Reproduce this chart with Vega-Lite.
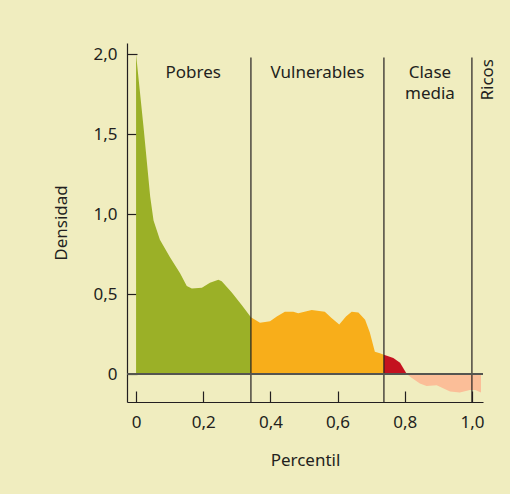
{
  "$schema": "https://vega.github.io/schema/vega-lite/v6.json",
  "width": 356,
  "height": 359,
  "autosize": {"type": "none"},
  "padding": {"left": 127, "top": 43, "right": 27, "bottom": 92},
  "background": "#F0EDBF",
  "config": {
    "view": {"stroke": null},
    "font": "Noto Sans",
    "axis": {
      "grid": false,
      "domainColor": "#231F20",
      "domainWidth": 1.2,
      "tickColor": "#231F20",
      "tickWidth": 1.2,
      "labelColor": "#231F20",
      "titleColor": "#231F20",
      "labelFont": "Noto Sans",
      "titleFont": "Noto Sans",
      "labelFontSize": 17,
      "titleFontSize": 17,
      "titleFontWeight": "normal"
    }
  },
  "datasets": {
    "curve": [
      {"seg": "pobres", "p": 0.0, "d": 2.0},
      {"seg": "pobres", "p": 0.022, "d": 1.55},
      {"seg": "pobres", "p": 0.042, "d": 1.11},
      {"seg": "pobres", "p": 0.052, "d": 0.96},
      {"seg": "pobres", "p": 0.071, "d": 0.84},
      {"seg": "pobres", "p": 0.101, "d": 0.73},
      {"seg": "pobres", "p": 0.131, "d": 0.63},
      {"seg": "pobres", "p": 0.151, "d": 0.55},
      {"seg": "pobres", "p": 0.166, "d": 0.535},
      {"seg": "pobres", "p": 0.196, "d": 0.54},
      {"seg": "pobres", "p": 0.22, "d": 0.57},
      {"seg": "pobres", "p": 0.245, "d": 0.59},
      {"seg": "pobres", "p": 0.255, "d": 0.58},
      {"seg": "pobres", "p": 0.285, "d": 0.51},
      {"seg": "pobres", "p": 0.315, "d": 0.43},
      {"seg": "pobres", "p": 0.342, "d": 0.355},
      {"seg": "vulnerables", "p": 0.342, "d": 0.355},
      {"seg": "vulnerables", "p": 0.369, "d": 0.32},
      {"seg": "vulnerables", "p": 0.399, "d": 0.33},
      {"seg": "vulnerables", "p": 0.419, "d": 0.36},
      {"seg": "vulnerables", "p": 0.443, "d": 0.39},
      {"seg": "vulnerables", "p": 0.468, "d": 0.39},
      {"seg": "vulnerables", "p": 0.483, "d": 0.38},
      {"seg": "vulnerables", "p": 0.523, "d": 0.4},
      {"seg": "vulnerables", "p": 0.562, "d": 0.39},
      {"seg": "vulnerables", "p": 0.582, "d": 0.35},
      {"seg": "vulnerables", "p": 0.605, "d": 0.31},
      {"seg": "vulnerables", "p": 0.625, "d": 0.36},
      {"seg": "vulnerables", "p": 0.642, "d": 0.39},
      {"seg": "vulnerables", "p": 0.662, "d": 0.385},
      {"seg": "vulnerables", "p": 0.682, "d": 0.34},
      {"seg": "vulnerables", "p": 0.696, "d": 0.26},
      {"seg": "vulnerables", "p": 0.711, "d": 0.14},
      {"seg": "vulnerables", "p": 0.726, "d": 0.13},
      {"seg": "vulnerables", "p": 0.738, "d": 0.12},
      {"seg": "media", "p": 0.738, "d": 0.12},
      {"seg": "media", "p": 0.766, "d": 0.1},
      {"seg": "media", "p": 0.786, "d": 0.07},
      {"seg": "media", "p": 0.806, "d": 0.0},
      {"seg": "ricos", "p": 0.806, "d": 0.0},
      {"seg": "ricos", "p": 0.815, "d": -0.015},
      {"seg": "ricos", "p": 0.845, "d": -0.06},
      {"seg": "ricos", "p": 0.865, "d": -0.075},
      {"seg": "ricos", "p": 0.895, "d": -0.07},
      {"seg": "ricos", "p": 0.935, "d": -0.11},
      {"seg": "ricos", "p": 0.964, "d": -0.115},
      {"seg": "ricos", "p": 0.994, "d": -0.1},
      {"seg": "ricos", "p": 1.01, "d": -0.1},
      {"seg": "ricos", "p": 1.027, "d": -0.115}
    ],
    "cuts": [{"p": 0.342}, {"p": 0.738}, {"p": 1.0}],
    "labels": [
      {"t": "Pobres", "p": 0.17, "d": 1.88, "a": 0},
      {"t": "Vulnerables", "p": 0.54, "d": 1.88, "a": 0},
      {"t": "Clase\nmedia", "p": 0.875, "d": 1.88, "a": 0},
      {"t": "Ricos", "p": 1.048, "d": 1.84, "a": 270}
    ]
  },
  "layer": [
    {
      "data": {"name": "curve"},
      "mark": {"type": "area", "clip": false},
      "encoding": {
        "x": {
          "field": "p", "type": "quantitative",
          "scale": {"domain": [-0.027, 1.033], "nice": false, "zero": false},
          "axis": {
            "title": "Percentil",
            "values": [0, 0.2, 0.4, 0.6, 0.8, 1.0],
            "tickSize": -11,
            "labelPadding": 23,
            "titlePadding": 22,
            "labelExpr": "datum.value == 0 ? '0' : replace(format(datum.value, '.1f'), '.', ',')"
          }
        },
        "y": {
          "field": "d", "type": "quantitative",
          "scale": {"domain": [-0.175, 2.07], "nice": false, "zero": false},
          "axis": {
            "title": "Densidad",
            "values": [0, 0.5, 1.0, 1.5, 2.0],
            "tickSize": -10,
            "labelPadding": 20,
            "titlePadding": 22,
            "labelExpr": "datum.value == 0 ? '0' : replace(format(datum.value, '.1f'), '.', ',')"
          }
        },
        "y2": {"datum": 0},
        "color": {
          "field": "seg", "type": "nominal",
          "scale": {
            "domain": ["pobres", "vulnerables", "media", "ricos"],
            "range": ["#9BB027", "#F8AE1A", "#C4121F", "#FBBE98"]
          },
          "legend": null
        }
      }
    },
    {
      "data": {"name": "cuts"},
      "mark": {"type": "rule", "color": "#231F20", "strokeWidth": 1.2},
      "encoding": {
        "x": {"field": "p", "type": "quantitative"},
        "y": {"datum": -0.175},
        "y2": {"datum": 1.98}
      }
    },
    {
      "data": {"values": [{"z": 0}]},
      "mark": {"type": "rule", "color": "#555550", "strokeWidth": 2},
      "encoding": {
        "y": {"field": "z", "type": "quantitative"}
      }
    },
    {
      "data": {"name": "labels"},
      "mark": {"type": "text", "font": "Noto Sans", "fontSize": 17, "color": "#231F20", "lineBreak": "\n", "baseline": "middle", "clip": false, "lineHeight": 21},
      "encoding": {
        "x": {"field": "p", "type": "quantitative"},
        "y": {"field": "d", "type": "quantitative"},
        "text": {"field": "t"},
        "angle": {"field": "a", "type": "quantitative", "scale": null}
      }
    }
  ]
}
